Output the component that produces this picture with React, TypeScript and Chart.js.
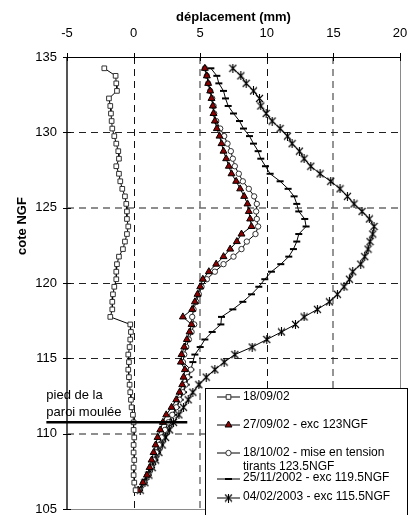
import React, { useEffect, useRef } from 'react';
import { Chart, registerables } from 'chart.js';
import { drawPoint } from 'chart.js/helpers';

Chart.register(...registerables);

// ---- data -------------------------------------------------------------
const COTE = [
  134.25, 133.75, 133.25, 132.75, 132.25, 131.75, 131.25, 130.75, 130.25, 129.75,
  129.25, 128.75, 128.25, 127.75, 127.25, 126.75, 126.25, 125.75, 125.25, 124.75,
  124.25, 123.75, 123.25, 122.75, 122.25, 121.75, 121.25, 120.75, 120.25, 119.75,
  119.25, 118.75, 118.25, 117.75, 117.25, 116.75, 116.25, 115.75, 115.25, 114.75,
  114.25, 113.75, 113.25, 112.75, 112.25, 111.75, 111.25, 110.75, 110.25, 109.75,
  109.25, 108.75, 108.25, 107.75, 107.25, 106.75, 106.25,
];

const S_180902 = [
  -2.2, -1.35, -1.3, -1.25, -1.85, -1.75, -1.7, -1.65, -1.6, -1.45,
  -1.3, -1.15, -1.1, -1.3, -1.1, -1.0, -0.85, -0.65, -0.55, -0.5,
  -0.5, -0.4, -0.5, -0.65, -0.8, -1.1, -1.25, -1.3, -1.3, -1.45,
  -1.55, -1.6, -1.6, -1.75, -0.25, -0.2, -0.25, -0.3, -0.4, -0.35,
  -0.4, -0.35, -0.3, -0.25, -0.2, -0.15, -0.05, 0.0, 0.0, 0.05,
  0.0, 0.0, 0.05, 0.0, 0.0, 0.05, 0.15,
];

const S_270902 = [
  5.35, 5.5, 5.6, 5.75, 5.85, 5.95, 6.0, 6.1, 6.25, 6.45,
  6.6, 6.75, 6.95, 7.15, 7.35, 7.7, 8.0, 8.3, 8.55, 8.65,
  8.75, 8.85, 8.1, 7.75, 7.25, 6.75, 6.2, 5.65, 5.2, 5.0,
  4.8, 4.6, 4.4, 3.7, 4.35, 4.2, 4.0, 3.8, 3.6, 3.55,
  3.85, 3.75, 3.65, 3.45, 3.2, 2.85, 2.45, 2.2, 2.0, 1.8,
  1.65, 1.5, 1.35, 1.2, 1.0, 0.7, 0.35,
];

const S_181002 = [
  5.35, 5.5, 5.6, 5.75, 5.9, 6.0, 6.05, 6.2, 6.5, 6.8,
  7.05, 7.3, 7.45, 7.6, 7.9, 8.2, 8.65, 9.05, 9.25, 9.2,
  9.25, 9.35, 9.15, 8.5, 8.1, 7.5, 6.75, 6.1, 5.5, 5.1,
  4.9, 4.7, 4.5, 4.4, 4.55, 4.35, 4.15, 3.95, 3.8, 3.7,
  4.3, 4.05, 3.9, 3.7, 3.45, 3.2, 2.9, 2.6, 2.35, 2.1,
  1.9, 1.7, 1.5, 1.3, 1.05, 0.75, 0.4,
];

const S_251102 = [
  5.8, 6.25, 6.4, 6.75, 6.9, 7.1, 7.5, 7.95, 8.25, 8.7,
  9.0, 9.35, 9.55, 9.9, 10.25, 11.0, 11.6, 12.05, 12.25, 12.4,
  12.85, 12.95, 12.4, 12.25, 12.0, 11.65, 11.05, 10.35, 9.85, 9.4,
  8.85, 8.2, 7.45, 6.6, 6.55, 5.9, 5.35, 5.0, 4.6, 4.45,
  4.3, 4.15, 3.95, 3.75, 3.5, 3.25, 3.0, 2.75, 2.5, 2.25,
  2.0, 1.8, 1.6, 1.35, 1.1, 0.8, 0.45,
];

const S_040203 = [
  7.45, 8.05, 8.45, 9.0, 9.45, 9.55, 9.95, 10.4, 11.0, 11.55,
  11.9, 12.45, 12.8, 13.3, 14.0, 14.8, 15.5, 16.05, 16.55, 17.15,
  17.7, 18.05, 17.95, 17.75, 17.6, 17.35, 17.05, 16.45, 16.2, 15.8,
  15.3, 14.7, 13.8, 12.8, 12.15, 11.1, 10.0, 8.9, 7.6, 6.8,
  6.1, 5.45, 4.9, 4.45, 4.1, 3.75, 3.4, 3.0, 2.7, 2.4,
  2.15, 1.9, 1.65, 1.4, 1.15, 0.85, 0.5,
];

const SERIES_LABELS = [
  ['18/09/02'],
  ['27/09/02 - exc 123NGF'],
  ['18/10/02 - mise en tension', 'tirants 123.5NGF'],
  ['25/11/2002 - exc 119.5NGF'],
  ['04/02/2003 - exc 115.5NGF'],
];

const X_MIN = -5;
const X_MAX = 20;
const Y_MIN = 105;
const Y_MAX = 135;
const STEP = 5;
const GRID_X = [0, 5, 10, 15];
const GRID_Y = [110, 115, 120, 125, 130];

const PIED_COTE = 110.75;
const PIED_X = [-6.55, 4.03];
const PIED_TEXT = ['pied de la', 'paroi moulée'];

const X_TITLE = 'déplacement (mm)';
const Y_TITLE = 'cote NGF';

const FONT = "'Liberation Sans', Arial, sans-serif";

// ---- helpers ----------------------------------------------------------
function makeStar(): HTMLCanvasElement {
  const c = document.createElement('canvas');
  c.width = 9;
  c.height = 9;
  const g = c.getContext('2d')!;
  g.strokeStyle = '#000';
  g.lineWidth = 1.1;
  g.beginPath();
  g.moveTo(1, 1);
  g.lineTo(8, 8);
  g.moveTo(8, 1);
  g.lineTo(1, 8);
  g.moveTo(4.5, 0);
  g.lineTo(4.5, 9);
  g.stroke();
  return c;
}

const pts = (vals: number[]) => vals.map((v, i) => ({ x: v, y: COTE[i] }));

const overlayPlugin = {
  id: 'overlay',
  beforeDatasetsDraw(chart: any) {
    const { ctx, chartArea: a, scales } = chart;
    const xs = scales.x;
    const ys = scales.y;
    ctx.save();
    ctx.setLineDash([7, 5]);
    GRID_X.forEach((v) => {
      const grey = v % 10 !== 0;
      const px = Math.round(xs.getPixelForValue(v)) + (grey ? 0 : 0.5);
      ctx.strokeStyle = grey ? '#7a7a7a' : '#111';
      ctx.lineWidth = grey ? 1.6 : 1;
      ctx.beginPath();
      ctx.moveTo(px, a.top);
      ctx.lineTo(px, a.bottom);
      ctx.stroke();
    });
    GRID_Y.forEach((v) => {
      const grey = v === 110 || v === 125;
      const py = Math.round(ys.getPixelForValue(v)) + (grey ? 0 : 0.5);
      ctx.strokeStyle = grey ? '#6a6a6a' : '#222';
      ctx.lineWidth = grey ? 1.4 : 1;
      ctx.beginPath();
      ctx.moveTo(a.left, py);
      ctx.lineTo(a.right, py);
      ctx.stroke();
    });
    ctx.restore();
  },
  afterDatasetsDraw(chart: any) {
    const { ctx, chartArea: a, scales } = chart;
    const xs = scales.x;
    const ys = scales.y;
    ctx.save();
    ctx.setLineDash([]);
    // plot border (right / bottom, grey)
    ctx.strokeStyle = '#8a8a8a';
    ctx.lineWidth = 1;
    ctx.beginPath();
    ctx.moveTo(Math.round(a.right) + 0.5, a.top);
    ctx.lineTo(Math.round(a.right) + 0.5, a.bottom);
    ctx.moveTo(a.left, Math.round(a.bottom) + 0.5);
    ctx.lineTo(a.right, Math.round(a.bottom) + 0.5);
    ctx.stroke();
    // left axis
    ctx.strokeStyle = '#555';
    ctx.lineWidth = 2;
    ctx.beginPath();
    ctx.moveTo(Math.round(a.left), a.top);
    ctx.lineTo(Math.round(a.left), a.bottom);
    ctx.stroke();
    // top axis
    ctx.strokeStyle = '#000';
    ctx.lineWidth = 1;
    ctx.beginPath();
    ctx.moveTo(a.left, Math.round(a.top) + 0.5);
    ctx.lineTo(a.right, Math.round(a.top) + 0.5);
    ctx.stroke();
    // tick marks crossing the axes
    ctx.beginPath();
    for (let v = X_MIN; v <= X_MAX; v += STEP) {
      const px = Math.round(xs.getPixelForValue(v)) + 0.5;
      ctx.moveTo(px, a.top - 4);
      ctx.lineTo(px, a.top + 4);
    }
    for (let v = Y_MIN; v <= Y_MAX; v += STEP) {
      const py = Math.round(ys.getPixelForValue(v)) + 0.5;
      ctx.moveTo(a.left - 4, py);
      ctx.lineTo(a.left + 4, py);
    }
    ctx.stroke();

    // "pied de la paroi moulée"
    const py = ys.getPixelForValue(PIED_COTE);
    ctx.strokeStyle = '#000';
    ctx.lineWidth = 2.5;
    ctx.beginPath();
    ctx.moveTo(xs.getPixelForValue(PIED_X[0]), py);
    ctx.lineTo(xs.getPixelForValue(PIED_X[1]), py);
    ctx.stroke();
    ctx.fillStyle = '#000';
    ctx.font = `13px ${FONT}`;
    ctx.textAlign = 'left';
    ctx.textBaseline = 'middle';
    const tx = xs.getPixelForValue(PIED_X[0]);
    ctx.fillText(PIED_TEXT[0], tx, py - 27);
    ctx.fillText(PIED_TEXT[1], tx, py - 10);

    // y title
    ctx.save();
    ctx.translate(22, 226);
    ctx.rotate(-Math.PI / 2);
    ctx.font = `bold 13px ${FONT}`;
    ctx.textAlign = 'center';
    ctx.textBaseline = 'middle';
    ctx.fillText(Y_TITLE, 0, 0);
    ctx.restore();

    // legend
    const lx = 205.5;
    const ly = 388.5;
    ctx.fillStyle = '#fff';
    ctx.fillRect(lx, ly, 202, 140);
    ctx.strokeStyle = '#000';
    ctx.lineWidth = 1;
    ctx.strokeRect(lx, ly, 202, 140);
    const rows = [397, 425, 453, 479, 498];
    const textRows = [[397], [425], [453, 467], [478], [497]];
    ctx.font = `12px ${FONT}`;
    ctx.textAlign = 'left';
    ctx.textBaseline = 'middle';
    chart.data.datasets.forEach((ds: any, i: number) => {
      const ry = rows[i];
      ctx.strokeStyle = '#000';
      ctx.lineWidth = 1;
      ctx.beginPath();
      ctx.moveTo(217, ry);
      ctx.lineTo(240, ry);
      ctx.stroke();
      ctx.fillStyle = ds.pointBackgroundColor;
      ctx.strokeStyle = ds.pointBorderColor;
      ctx.lineWidth = ds.pointBorderWidth;
      drawPoint(ctx, {
        pointStyle: ds.pointStyle,
        radius: ds.pointRadius,
        rotation: 0,
        borderWidth: ds.pointBorderWidth,
      } as any, 228.5, ry);
      ctx.fillStyle = '#000';
      SERIES_LABELS[i].forEach((t, k) => ctx.fillText(t, 243, textRows[i][k]));
    });
    ctx.restore();
  },
};

export default function App() {
  const ref = useRef<HTMLCanvasElement>(null);
  useEffect(() => {
    const star = makeStar();
    const common = {
      showLine: true,
      borderColor: '#000',
      borderWidth: 1,
      tension: 0,
      pointBorderColor: '#000',
      pointBorderWidth: 1,
    };
    const chart = new Chart(ref.current!, {
      type: 'scatter',
      data: {
        datasets: [
          { ...common, label: SERIES_LABELS[0].join(' '), data: pts(S_180902), pointStyle: 'rect', pointRadius: 3.3, pointBackgroundColor: '#fff', pointBorderColor: '#333' },
          { ...common, label: SERIES_LABELS[1].join(' '), data: pts(S_270902), pointStyle: 'triangle', pointRadius: 4, pointBackgroundColor: '#8b0000' },
          { ...common, label: SERIES_LABELS[2].join(' '), data: pts(S_181002), pointStyle: 'circle', pointRadius: 2.7, pointBackgroundColor: '#fff', pointBorderColor: '#333' },
          { ...common, label: SERIES_LABELS[3].join(' '), data: pts(S_251102), pointStyle: 'line', pointRadius: 3.5, pointBorderWidth: 2, pointBackgroundColor: '#000' },
          { ...common, label: SERIES_LABELS[4].join(' '), data: pts(S_040203), pointStyle: star, pointRadius: 4, pointBackgroundColor: '#000' },
        ] as any,
      },
      options: {
        animation: false,
        responsive: false,
        devicePixelRatio: 1,
        layout: { padding: { left: 0, top: 0, right: 8, bottom: 4 } },
        plugins: { legend: { display: false }, tooltip: { enabled: false } },
        scales: {
          x: {
            type: 'linear',
            position: 'top',
            min: X_MIN,
            max: X_MAX,
            ticks: { stepSize: STEP, color: '#000', padding: 16, font: { family: FONT, size: 13 } },
            grid: { display: false, drawTicks: false },
            border: { display: false },
            title: { display: true, text: X_TITLE, color: '#000', font: { family: FONT, size: 13, weight: 'bold' }, padding: { top: 10, bottom: 0 } },
            afterFit: (s: any) => { s.height = 57; s.paddingLeft = 0; s.paddingRight = 0; },
          },
          y: {
            type: 'linear',
            position: 'left',
            min: Y_MIN,
            max: Y_MAX,
            ticks: { stepSize: STEP, color: '#000', padding: 10, font: { family: FONT, size: 13 } },
            grid: { display: false, drawTicks: false },
            border: { display: false },
            afterFit: (s: any) => { s.width = 67; s.paddingTop = 0; s.paddingBottom = 0; },
          },
        },
      } as any,
      plugins: [overlayPlugin],
    });
    return () => chart.destroy();
  }, []);
  return (
    <div style={{ position: 'absolute', left: 0, top: 0, width: 408, height: 515, background: '#fff' }}>
      <canvas ref={ref} width={408} height={515} style={{ display: 'block' }} />
    </div>
  );
}
